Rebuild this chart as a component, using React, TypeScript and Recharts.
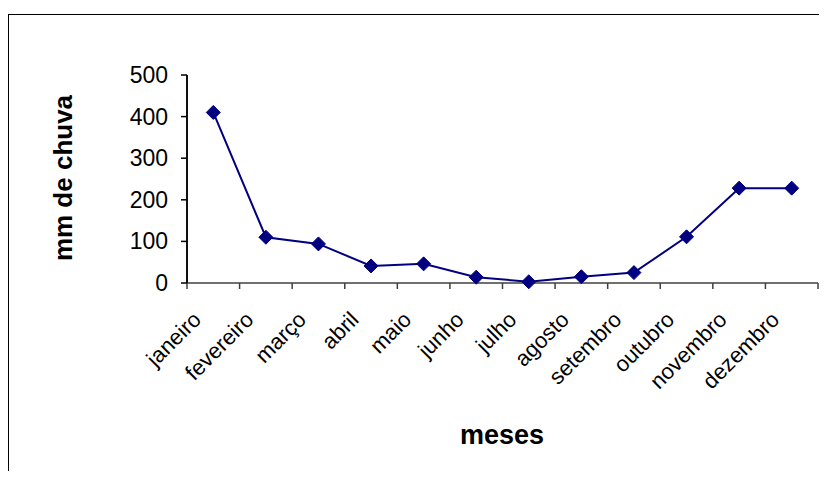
import { LineChart, Line, XAxis, YAxis, ReferenceLine } from 'recharts';

const months = [
  'janeiro', 'fevereiro', 'março', 'abril', 'maio', 'junho',
  'julho', 'agosto', 'setembro', 'outubro', 'novembro', 'dezembro',
];
const rainfall = [410, 110, 94, 41, 46, 14, 3, 15, 25, 111, 228, 228];
const yTicks = [0, 100, 200, 300, 400, 500];
const xTitle = 'meses';
const yTitle = 'mm de chuva';

const data = months.map((m, i) => ({ month: m, x: i + 0.5, mm: rainfall[i] }));
// integer ticks = category boundaries (tick marks), half ticks = month labels
const xTicks = months.flatMap((_, i) => [i, i + 0.5]).concat(months.length);

const FONT = '"Liberation Sans", Arial, sans-serif';
const NAVY = '#000080';

function Diamond(props: any) {
  const { cx, cy } = props;
  if (cx == null || cy == null) return null;
  const r = 7;
  return (
    <polygon
      points={`${cx},${cy - r} ${cx + r},${cy} ${cx},${cy + r} ${cx - r},${cy}`}
      fill={NAVY}
      stroke={NAVY}
    />
  );
}

function XTick(props: any) {
  const { x, y, payload } = props;
  const v = payload.value;
  if (Number.isInteger(v)) {
    return <line x1={x} y1={y} x2={x} y2={y + 6} stroke="#404040" strokeWidth={1.5} />;
  }
  const ax = x - 11;
  const ay = y + 38;
  return (
    <text
      x={ax}
      y={ay}
      transform={`rotate(-45, ${ax}, ${ay})`}
      textAnchor="end"
      fontFamily={FONT}
      fontSize={22}
      fill="#000"
    >
      {months[Math.floor(v)]}
    </text>
  );
}

function YTick(props: any) {
  const { x, y, payload } = props;
  return (
    <g>
      <line x1={x} y1={y} x2={x + 6} y2={y} stroke="#000" strokeWidth={1.5} />
      <text x={x - 13} y={y} dy={8} textAnchor="end" fontFamily={FONT} fontSize={23} fill="#000">
        {payload.value}
      </text>
    </g>
  );
}

const titleStyle: React.CSSProperties = {
  position: 'absolute',
  fontFamily: FONT,
  fontWeight: 'bold',
  lineHeight: 1,
  whiteSpace: 'nowrap',
  color: '#000',
};

export default function App() {
  return (
    <div style={{ paddingTop: 6 }}>
      <div
        style={{
          position: 'relative',
          width: 818,
          height: 456,
          borderLeft: '1px solid #000',
          borderTop: '1px solid #000',
        }}
      >
        <LineChart width={818} height={456} data={data} margin={{ top: 60, right: 9, bottom: 37, left: 0 }}>
          <XAxis
            type="number"
            dataKey="x"
            domain={[0, 12]}
            ticks={xTicks}
            interval={0}
            height={151}
            axisLine={{ stroke: '#404040', strokeWidth: 1.5 }}
            tickLine={false}
            tickSize={0}
            tickMargin={0}
            tick={<XTick />}
          />
          <YAxis
            domain={[0, 500]}
            ticks={yTicks}
            interval={0}
            width={178}
            axisLine={{ stroke: '#000', strokeWidth: 1.5 }}
            tickLine={false}
            tickSize={6}
            tickMargin={0}
            tick={<YTick />}
          />
          <ReferenceLine x={0} stroke="#000" strokeWidth={1.5} />
          <Line
            type="linear"
            dataKey="mm"
            stroke={NAVY}
            strokeWidth={2}
            dot={<Diamond />}
            activeDot={false}
            isAnimationActive={false}
          />
        </LineChart>
        <div
          style={{
            ...titleStyle,
            fontSize: 26,
            left: 54,
            top: 163,
            transform: 'translate(-50%, -50%) rotate(-90deg)',
          }}
        >
          {yTitle}
        </div>
        <div
          style={{
            ...titleStyle,
            fontSize: 27,
            left: 493,
            top: 407,
            transform: 'translateX(-50%)',
          }}
        >
          {xTitle}
        </div>
      </div>
    </div>
  );
}
